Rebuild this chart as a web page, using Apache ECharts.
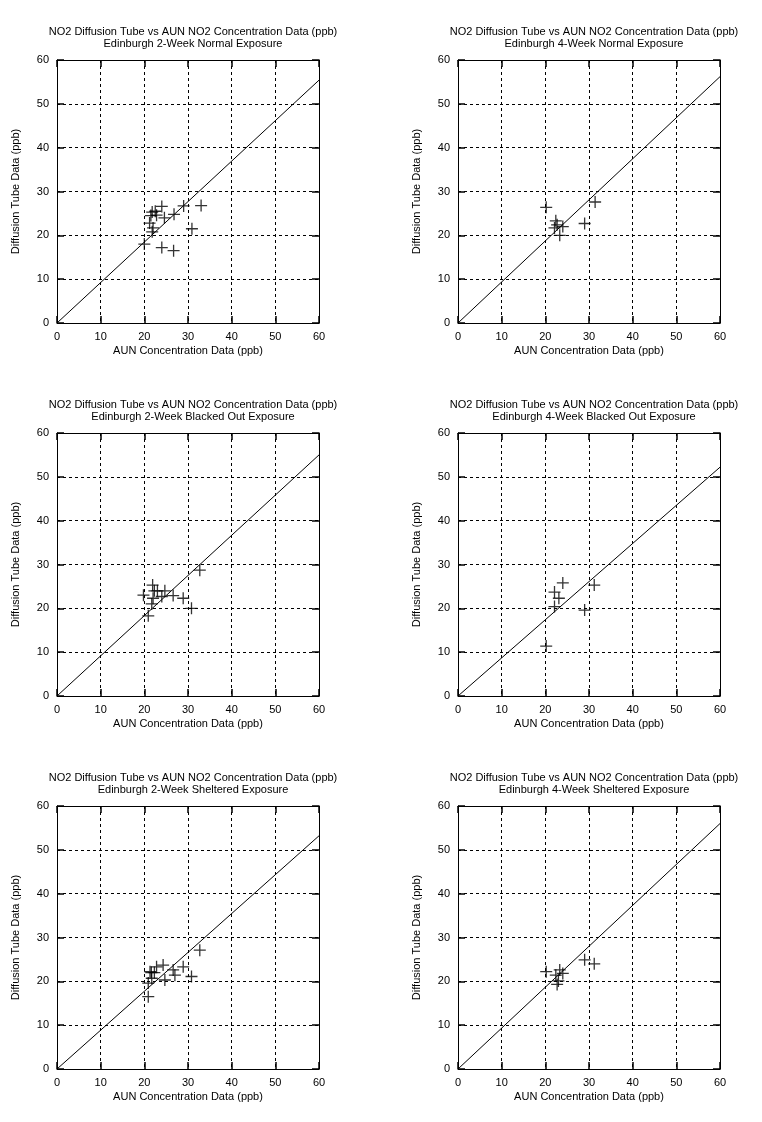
<!DOCTYPE html>
<html>
<head>
<meta charset="utf-8">
<script src="https://cdn.jsdelivr.net/npm/echarts@6/dist/echarts.min.js"></script>
<style>
html,body{margin:0;padding:0;background:#fff;}
#chart{width:762px;height:1122px;}
</style>
</head>
<body>
<div id="chart"></div>
<script>
const mainTitle = "NO2 Diffusion Tube vs AUN NO2 Concentration Data (ppb)";
const subTitles = [
  "Edinburgh 2-Week Normal Exposure",
  "Edinburgh 4-Week Normal Exposure",
  "Edinburgh 2-Week Blacked Out Exposure",
  "Edinburgh 4-Week Blacked Out Exposure",
  "Edinburgh 2-Week Sheltered Exposure",
  "Edinburgh 4-Week Sheltered Exposure"
];
const xAxisName = "AUN Concentration Data (ppb)";
const yAxisName = "Diffusion Tube Data (ppb)";
const tickValues = [0, 10, 20, 30, 40, 50, 60];

// 2-week normal
const aun2wNormal  = [21.8, 22.5, 21.5, 24.0, 22.8, 24.6, 26.8, 29.0, 33.0, 21.2, 22.0, 21.8, 30.9, 20.0, 24.0, 26.7];
const tube2wNormal = [25.3, 25.5, 24.5, 26.6, 24.6, 24.0, 24.8, 26.7, 26.8, 22.8, 21.7, 20.8, 21.5, 18.0, 17.2, 16.5];
// 4-week normal
const aun4wNormal  = [20.2, 31.4, 22.4, 22.7, 24.0, 22.1, 23.3, 29.0];
const tube4wNormal = [26.4, 27.6, 23.3, 22.4, 22.0, 21.7, 20.0, 22.7];
// 2-week blacked out
const aun2wBlack  = [32.7, 19.8, 21.9, 22.3, 23.0, 24.7, 26.6, 28.9, 30.8, 22.0, 24.0, 21.7, 20.9];
const tube2wBlack = [28.7, 23.0, 25.3, 24.0, 24.0, 24.0, 22.9, 22.3, 20.0, 22.3, 22.7, 21.0, 18.3];
// 4-week blacked out
const aun4wBlack  = [24.0, 31.2, 22.1, 23.1, 22.1, 29.0, 20.2];
const tube4wBlack = [25.8, 25.3, 23.7, 22.3, 20.4, 19.6, 11.4];
// 2-week sheltered
const aun2wShelt  = [32.7, 21.3, 21.6, 22.3, 24.3, 22.8, 26.6, 28.9, 27.0, 24.7, 30.8, 20.9, 21.7, 20.9];
const tube2wShelt = [27.1, 22.2, 22.0, 22.0, 23.7, 23.3, 22.6, 23.3, 21.4, 20.3, 21.1, 19.6, 20.7, 16.5];
// 4-week sheltered
const aun4wShelt  = [20.2, 29.0, 31.2, 23.3, 22.4, 24.0, 23.0, 22.7];
const tube4wShelt = [22.2, 24.9, 24.0, 22.6, 21.4, 21.8, 20.1, 19.3];

// fitted line value at x = 60 for each panel
const fitAt60 = [55.4, 56.2, 55.0, 52.2, 53.2, 56.0];
const fitX = [0, 60];

const panelX = [aun2wNormal, aun4wNormal, aun2wBlack, aun4wBlack, aun2wShelt, aun4wShelt];
const panelY = [tube2wNormal, tube4wNormal, tube2wBlack, tube4wBlack, tube2wShelt, tube4wShelt];

const lefts = [57, 458];
const tops = [60, 433, 806];
const W = 262, H = 263;
const font = "'Liberation Sans', Arial, sans-serif";

const option = {
  animation: false,
  backgroundColor: '#fff',
  title: [], grid: [], xAxis: [], yAxis: [], series: []
};

for (let i = 0; i < 6; i++) {
  const left = lefts[i % 2], top = tops[Math.floor(i / 2)];
  option.title.push({
    text: mainTitle + "\n" + subTitles[i],
    left: left + W / 2, top: top - 39, textAlign: 'center',
    textStyle: {fontFamily: font, fontSize: 11, fontWeight: 'normal', color: '#000', lineHeight: 12}
  });
  option.grid.push({left: left, top: top, width: W, height: H, show: false});
  const common = {
    min: 0, max: 60, interval: 10, gridIndex: i,
    axisLine: {show: true, onZero: false, lineStyle: {color: '#000', width: 1}},
    axisTick: {show: true, inside: true, length: 7, lineStyle: {color: '#000', width: 1.5}}
  };
  option.xAxis.push(Object.assign({}, common, {
    type: 'value', position: 'bottom',
    name: xAxisName, nameLocation: 'middle', nameGap: 22,
    nameTextStyle: {fontFamily: font, fontSize: 11, color: '#000'},
    axisLabel: {fontFamily: font, fontSize: 11, color: '#000', margin: 8},
    splitLine: {show: true, lineStyle: {color: '#000', type: [3, 3], width: 1}}
  }));
  option.xAxis.push(Object.assign({}, common, {
    type: 'value', position: 'top', axisLabel: {show: false}, splitLine: {show: false}
  }));
  option.yAxis.push(Object.assign({}, common, {
    type: 'value', position: 'left',
    name: yAxisName, nameLocation: 'middle', nameGap: 36,
    nameTextStyle: {fontFamily: font, fontSize: 11, color: '#000'},
    axisLabel: {fontFamily: font, fontSize: 11, color: '#000', margin: 8},
    splitLine: {show: true, lineStyle: {color: '#000', type: [3, 3], width: 1}}
  }));
  option.yAxis.push(Object.assign({}, common, {
    type: 'value', position: 'right', axisLabel: {show: false}, splitLine: {show: false}
  }));
  const xs = panelX[i], ys = panelY[i];
  option.series.push({
    type: 'line', xAxisIndex: 2 * i, yAxisIndex: 2 * i,
    data: fitX.map(x => [x, x * fitAt60[i] / 60]),
    showSymbol: false, silent: true,
    lineStyle: {color: '#000', width: 1}
  });
  option.series.push({
    type: 'scatter', xAxisIndex: 2 * i, yAxisIndex: 2 * i,
    data: xs.map((x, k) => [x, ys[k]]),
    symbol: 'path://M0,5L10,5M5,0L5,10', symbolSize: 12,
    itemStyle: {color: 'none', borderColor: '#000', borderWidth: 1.3}
  });
}

const chart = echarts.init(document.getElementById('chart'), null, {renderer: 'canvas'});
chart.setOption(option);
</script>
</body>
</html>
